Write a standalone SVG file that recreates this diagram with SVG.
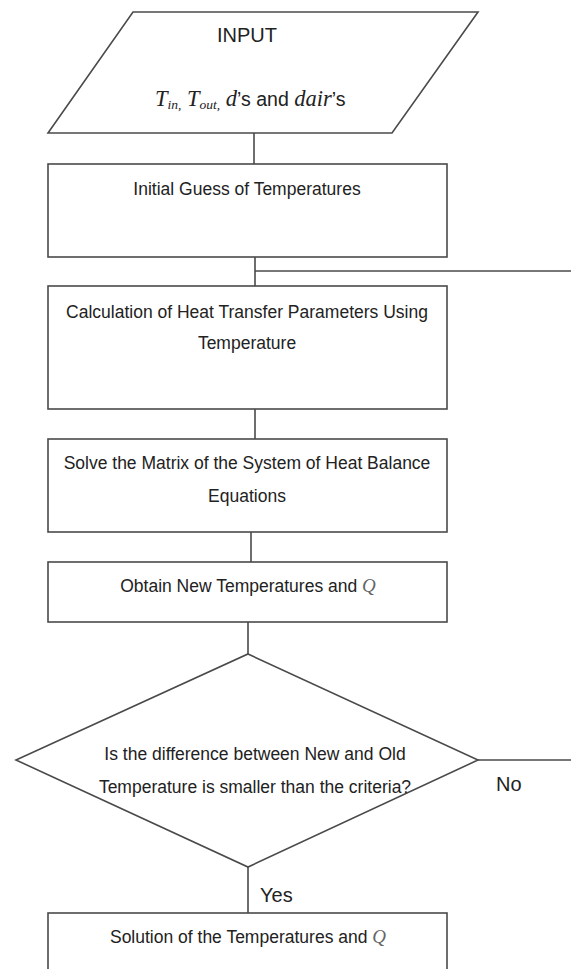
<svg xmlns="http://www.w3.org/2000/svg" width="571" height="969" viewBox="0 0 571 969">
<style>
.shape{fill:#fff;stroke:#4a4a4a;stroke-width:1.6}
.conn{fill:none;stroke:#4a4a4a;stroke-width:1.6}
.t{font-family:"Liberation Sans",Arial,sans-serif;font-size:17.5px;fill:#222;text-anchor:middle}
.lbl{font-family:"Liberation Sans",Arial,sans-serif;font-size:20px;fill:#222}
.m{font-family:"Liberation Serif","Times New Roman",serif;font-style:italic}
.q{font-family:"Liberation Serif","Times New Roman",serif;font-style:italic;fill:#666;font-size:19px}
</style>
<rect width="571" height="969" fill="#fff"/>
<g id="connectors">
<line class="conn" x1="254" y1="133" x2="254" y2="164"/>
<line class="conn" x1="255" y1="257" x2="255" y2="286"/>
<line class="conn" x1="255" y1="271" x2="571" y2="271"/>
<line class="conn" x1="255" y1="409" x2="255" y2="439"/>
<line class="conn" x1="251" y1="532" x2="251" y2="562"/>
<line class="conn" x1="248" y1="622" x2="248" y2="654"/>
<line class="conn" x1="478" y1="760" x2="571" y2="760"/>
<line class="conn" x1="248" y1="867" x2="248" y2="913"/>
<text class="lbl" x="496" y="791">No</text>
<text class="lbl" x="260" y="902">Yes</text>
</g>
<g id="input">
<polygon class="shape" points="133,12 478,12 392,133 48,133"/>
<text class="lbl" x="247" y="42" text-anchor="middle">INPUT</text>
<text x="155" y="106" style="font-family:'Liberation Sans',Arial,sans-serif;font-size:19.5px;fill:#222"><tspan class="m" font-size="22.5">T</tspan><tspan class="m" font-size="13.5" dy="3">in,</tspan><tspan class="m" font-size="22.5" dy="-3"> T</tspan><tspan class="m" font-size="13.5" dy="3">out,</tspan><tspan class="m" font-size="22.5" dy="-3"> d</tspan><tspan>’s and </tspan><tspan class="m" font-size="22.5">dair</tspan><tspan>’s</tspan></text>
</g>
<g id="initial-guess">
<rect class="shape" x="48" y="164" width="399" height="93"/>
<text class="t" x="247" y="195">Initial Guess of Temperatures</text>
</g>
<g id="calc-params">
<rect class="shape" x="48" y="286" width="399" height="123"/>
<text class="t" x="247" y="318">Calculation of Heat Transfer Parameters Using</text>
<text class="t" x="247" y="349">Temperature</text>
</g>
<g id="solve-matrix">
<rect class="shape" x="48" y="439" width="399" height="93"/>
<text class="t" x="247" y="469">Solve the Matrix of the System of Heat Balance</text>
<text class="t" x="247" y="502">Equations</text>
</g>
<g id="obtain-new">
<rect class="shape" x="48" y="562" width="399" height="60"/>
<text class="t" x="248" y="592">Obtain New Temperatures and <tspan class="q">Q</tspan></text>
</g>
<g id="decision">
<polygon class="shape" points="248,654 478,760 248,867 16,760"/>
<text class="t" x="255" y="760">Is the difference between New and Old</text>
<text class="t" x="255" y="793">Temperature is smaller than the criteria?</text>
</g>
<g id="solution">
<rect class="shape" x="48" y="913" width="399" height="80"/>
<text class="t" x="248" y="943">Solution of the Temperatures and <tspan class="q">Q</tspan></text>
</g>
</svg>
